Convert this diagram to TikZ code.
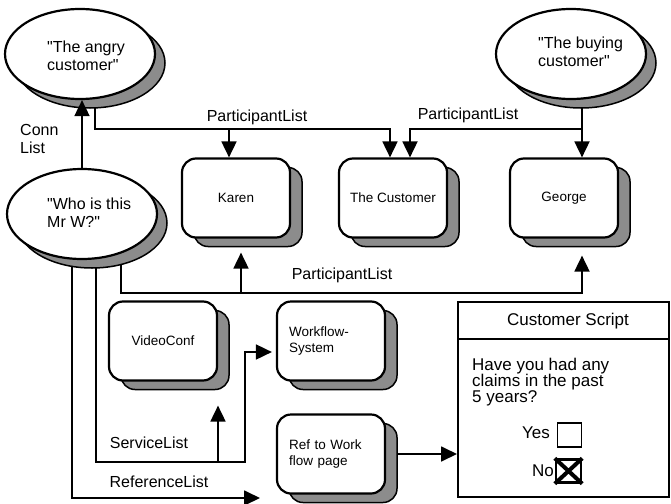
\documentclass[tikz,border=0pt]{standalone}
\usepackage{fontspec}
\setmainfont{Liberation Sans}
\usetikzlibrary{arrows.meta,backgrounds,shapes.geometric}
\begin{document}
\begin{tikzpicture}[x=1pt,y=-1pt,
  every node/.style={inner sep=0pt},
  conn/.style={line width=1.8pt,-{Triangle[width=15pt,length=16pt]}},
  boxfront/.style={draw,line width=2.2pt,rounded corners=14pt,fill=white,minimum width=108pt,minimum height=79pt,font=\fontsize{13.5}{16.5}\selectfont},
  boxshade/.style={draw,line width=1.5pt,rounded corners=14pt,fill=black!45,minimum width=108pt,minimum height=79pt},
  ovalfront/.style={ellipse,draw,line width=2.2pt,fill=white,minimum width=150pt,minimum height=90pt},
  ovalshade/.style={ellipse,draw,line width=1.5pt,fill=black!45,minimum width=150pt,minimum height=90pt},
  ovaltext/.style={anchor=west,align=left,font=\fontsize{16}{18}\selectfont},
  lbl/.style={font=\fontsize{16}{18}\selectfont},
  sctext/.style={font=\fontsize{17}{16}\selectfont}
]
\useasboundingbox (0,0) rectangle (671,503);
% ovals
\node[ovalshade] (angryS) at (90,63) {};
\node[ovalfront] (angry) at (80,54) {};
\node[ovaltext] (angryT) at (47,56) {\textquotedbl The angry\\customer\textquotedbl};
\node[ovalshade] (whoS) at (92,223) {};
\node[ovalfront] (who) at (82,214) {};
\node[ovaltext] (whoT) at (47,213) {\textquotedbl Who is this\\Mr W?\textquotedbl};
\node[ovalshade] (buyS) at (581,63) {};
\node[ovalfront] (buy) at (571,54) {};
\node[ovaltext] (buyT) at (538,52) {\textquotedbl The buying\\customer\textquotedbl};
% boxes
\node[boxshade] (karenS) at (248,207) {};
\node[boxfront] (karen) at (236,198) {Karen};
\node[boxshade] (custS) at (405,207) {};
\node[boxfront] (cust) at (393,198) {The Customer};
\node[boxshade] (georgeS) at (576,207) {};
\node[boxfront] (george) at (564,198) {George};
\node[boxshade] (videoS) at (175,350) {};
\node[boxfront] (video) at (163,341) {VideoConf};
\node[boxshade] (workS) at (343,350) {};
\node[boxfront,text width=84pt,align=left] (work) at (331,341) {Workflow-\\System};
\node[boxshade] (refS) at (343,463) {};
\node[boxfront,text width=84pt,align=left] (ref) at (331,454) {Ref to Work\\flow page};
% customer script
\node[draw,line width=2pt,minimum width=211pt,minimum height=195pt] (script) at (563.5,399.5) {};
\coordinate (hdr) at (0,339);
\draw[line width=1.6pt] (script.west |- hdr) -- (script.east |- hdr);
\node[sctext] (scT) at (568,321) {Customer Script};
\node[sctext,anchor=west,align=left] (q) at (472,382) {Have you had any\\claims in the past\\5 years?};
\node[sctext] (yesT) at (536,433) {Yes};
\node[draw,line width=1.8pt,minimum width=24pt,minimum height=24pt] (yesB) at (569.5,435) {};
\node[sctext] (noT) at (543,471) {No};
\node[draw,line width=2.4pt,minimum width=25pt,minimum height=23pt] (noB) at (568.5,471) {};
\draw[line width=4pt] (noB.north west) -- (noB.south east) (noB.north east) -- (noB.south west);
% labels
\node[lbl,anchor=west,align=left] (connL) at (20,139) {Conn\\List};
\node[lbl] (pl1) at (257,117) {ParticipantList};
\node[lbl] (pl2) at (468,115) {ParticipantList};
\node[lbl] (pl3) at (342,275) {ParticipantList};
\node[lbl] (slL) at (149,443) {ServiceList};
\node[lbl] (rlL) at (159,482) {ReferenceList};
% connectors
\coordinate (a1) at (95,129);
\coordinate (b1) at (582,129);
\coordinate (p2) at (121,293);
\coordinate (s1) at (245,462);
\coordinate (rend) at (260,498);
\draw[conn] (who.north) -- (who.north |- angry.south);
\begin{scope}[on background layer]
\fill[white] (0,0) rectangle (671,503);
\draw[conn] ([xshift=15pt]angry.south) |- (a1) -| ([xshift=-3pt]cust.north);
\draw[conn] ([xshift=-7pt]karen.north |- a1) -- ([xshift=-7pt]karen.north);
\draw[conn] ([xshift=11pt]buy.south) -- ([xshift=18pt]george.north);
\draw[conn] (b1) -| ([xshift=17pt]cust.north);
\draw[conn] ([xshift=39pt]who.south) |- (p2) -| ([xshift=18pt,yshift=-17pt]george.south);
\draw[conn] ([xshift=5pt]karen.south |- p2) -- ([xshift=5pt,yshift=-14pt]karen.south);
\draw[conn] ([xshift=14pt]who.south) |- (s1) |- ([xshift=-4pt,yshift=-11pt]work.west);
\draw[conn] ([xshift=55pt]video.south |- s1) -- ([xshift=55pt,yshift=-24pt]video.south);
\draw[conn] ([xshift=-10pt]who.south) |- (rend);
\draw[conn] (ref.east) -- (ref.east -| script.west);
\end{scope}
\end{tikzpicture}
\end{document}
